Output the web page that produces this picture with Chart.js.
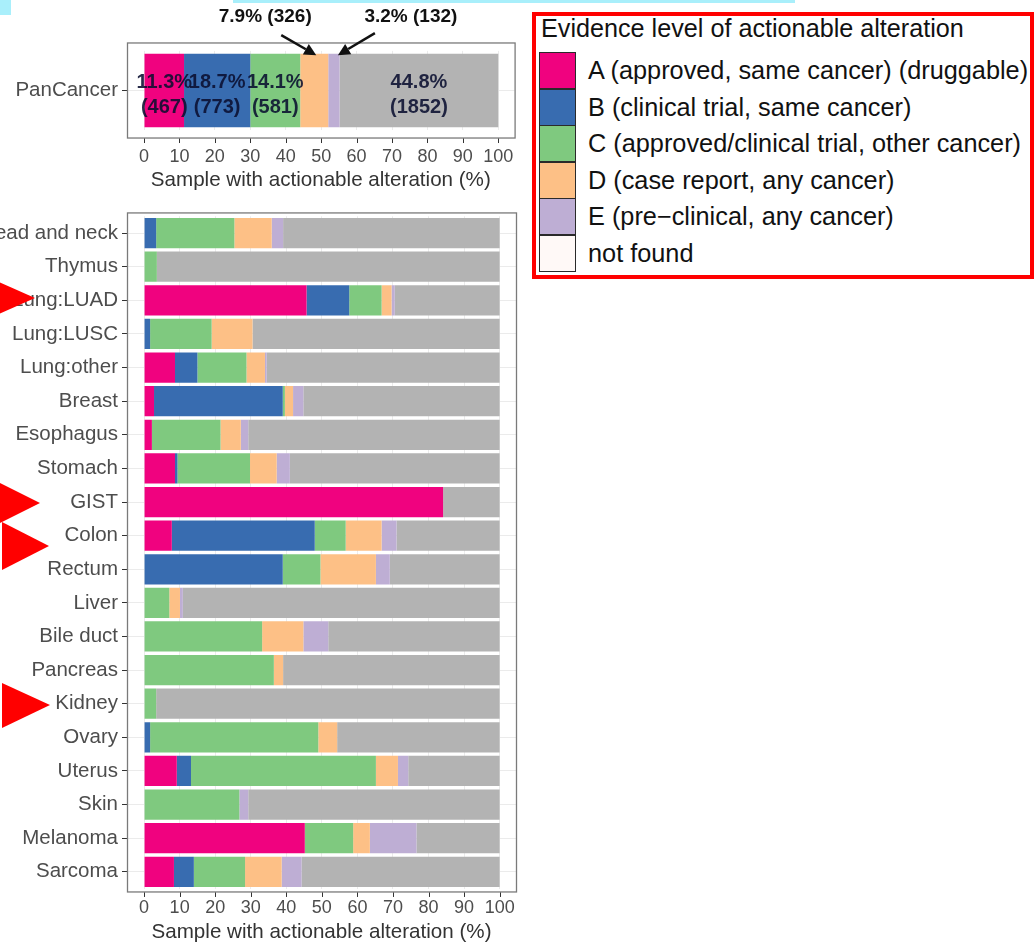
<!DOCTYPE html>
<html><head><meta charset="utf-8">
<script src="https://cdn.jsdelivr.net/npm/chart.js@4.4.0/dist/chart.umd.min.js"></script>
<style>
html,body{margin:0;padding:0;width:1034px;height:942px;overflow:hidden;background:#fff;font-family:"Liberation Sans",Arial,sans-serif;}
#topChart{position:absolute;left:0;top:0;}
#bottomChart{position:absolute;left:0;top:200px;}
#legend{position:absolute;left:532px;top:12px;width:494px;height:259px;border:4px solid #ff0000;}
#legend .ttl{position:absolute;left:5px;top:0;font-size:25.2px;line-height:24px;color:#111;white-space:nowrap;}
#legend .key{position:absolute;left:3px;width:37px;height:37px;box-sizing:border-box;border:1px solid #2a2a2a;}
#legend .lab{position:absolute;left:52px;font-size:25.3px;line-height:36px;color:#111;white-space:nowrap;}
#ov{position:absolute;left:0;top:0;pointer-events:none;}
</style>
</head><body>
<canvas id="topChart" width="530" height="200"></canvas>
<canvas id="bottomChart" width="530" height="760"></canvas>
<div id="legend"></div>
<svg id="ov" width="1034" height="942">
<rect x="0" y="0" width="11" height="15" fill="#a9effb"/>
<rect x="233" y="0" width="562" height="3" fill="#a9effb"/>
<polygon points="-15,276 -15,320 35,298" fill="#ff0000"/>
<polygon points="-8,479 -8,527 40,503" fill="#ff0000"/>
<polygon points="2,522 2,570 49,546" fill="#ff0000"/>
<polygon points="2,683 2,728 50,705" fill="#ff0000"/>
</svg>
<script>
// ---- data ----
const seriesNames = ['A (approved, same cancer) (druggable)', 'B (clinical trial, same cancer)', 'C (approved/clinical trial, other cancer)', 'D (case report, any cancer)', 'E (pre\u2212clinical, any cancer)', 'not found'];
const seriesColors = ['#F0027F', '#386CB0', '#7FC97F', '#FDC086', '#BEAED4', '#FFF9F7'];
const restColor = '#B3B3B3';
const legendTitle = 'Evidence level of actionable alteration';
const xTitle = 'Sample with actionable alteration (%)';
const xTicks = [0, 10, 20, 30, 40, 50, 60, 70, 80, 90, 100];

const panCategories = ['PanCancer'];
const panA = [11.3];
const panB = [18.7];
const panC = [14.1];
const panD = [7.9];
const panE = [3.2];
const panRest = [44.8];
const panCounts = [467, 773, 581, 326, 132, 1852];

const categories = ['Head and neck', 'Thymus', 'Lung:LUAD', 'Lung:LUSC', 'Lung:other', 'Breast', 'Esophagus', 'Stomach', 'GIST', 'Colon', 'Rectum', 'Liver', 'Bile duct', 'Pancreas', 'Kidney', 'Ovary', 'Uterus', 'Skin', 'Melanoma', 'Sarcoma'];
const levelA = [0, 0, 45.7, 0, 8.7, 2.8, 2.2, 8.7, 84.1, 7.8, 0, 0, 0, 0, 0, 0, 9.2, 0, 45.2, 8.4];
const levelB = [3.4, 0, 12.0, 1.7, 6.3, 36.2, 0, 0.7, 0, 40.2, 39.0, 0, 0, 0, 0, 1.7, 4.0, 0, 0, 5.6];
const levelC = [22.0, 3.6, 9.1, 17.3, 13.8, 0.6, 19.3, 20.4, 0, 8.7, 10.6, 7.1, 33.2, 36.5, 3.4, 47.3, 52.0, 26.8, 13.6, 14.4];
const levelD = [10.5, 0, 2.8, 11.5, 5.2, 2.3, 5.7, 7.5, 0, 10.1, 15.6, 3.0, 11.6, 2.6, 0, 5.3, 6.2, 0, 4.7, 10.3];
const levelE = [3.2, 0, 0.9, 0, 0.5, 2.9, 2.1, 3.7, 0, 4.2, 3.9, 0.8, 7.0, 0, 0, 0, 2.9, 2.5, 13.1, 5.6];
const levelRest = [60.9, 96.4, 29.5, 69.5, 65.5, 55.2, 70.7, 59.0, 15.9, 29.0, 30.9, 89.1, 48.2, 60.9, 96.6, 45.7, 25.7, 70.7, 23.4, 55.7];

// ---- legend (HTML) ----
(function () {
  const lg = document.getElementById('legend');
  const t = document.createElement('div'); t.className = 'ttl'; t.textContent = legendTitle; lg.appendChild(t);
  seriesNames.forEach((n, i) => {
    const top = 36 + i * 36.5;
    const k = document.createElement('div'); k.className = 'key';
    k.style.top = top + 'px'; k.style.background = seriesColors[i]; lg.appendChild(k);
    const l = document.createElement('div'); l.className = 'lab';
    l.style.top = top + 'px'; l.textContent = n; lg.appendChild(l);
  });
})();

const FAM = '"Liberation Sans", Arial, sans-serif';

const panelPlugin = {
  id: 'panel',
  afterDraw(chart) {
    const a = chart.chartArea, ctx = chart.ctx;
    const n = chart.data.labels.length;
    const inset = 0.1 * (a.bottom - a.top) / n;
    const top = a.top - inset, bottom = a.bottom + inset;
    ctx.save();
    ctx.strokeStyle = '#7a7a7a'; ctx.lineWidth = 1.3;
    ctx.strokeRect(a.left + 0.5, top, a.right - a.left, bottom - top);
    ctx.strokeStyle = '#333'; ctx.lineWidth = 1;
    const sx = chart.scales.x;
    sx.ticks.forEach(t => {
      const px = Math.round(sx.getPixelForValue(t.value)) + 0.5;
      ctx.beginPath(); ctx.moveTo(px, bottom + 0.5); ctx.lineTo(px, bottom + 5); ctx.stroke();
    });
    ctx.restore();
  }
};

function arrow(ctx, x0, y0, x1, y1) {
  const ang = Math.atan2(y1 - y0, x1 - x0), L = 12, W = 6;
  const bx = x1 - L * Math.cos(ang), by = y1 - L * Math.sin(ang);
  ctx.beginPath(); ctx.moveTo(x0, y0); ctx.lineTo(bx, by); ctx.stroke();
  ctx.beginPath(); ctx.moveTo(x1, y1);
  ctx.lineTo(bx + W * Math.sin(ang), by - W * Math.cos(ang));
  ctx.lineTo(bx - W * Math.sin(ang), by + W * Math.cos(ang));
  ctx.closePath(); ctx.fill();
}

const panLabelPlugin = {
  id: 'panLabels',
  afterDraw(chart) {
    const ctx = chart.ctx;
    const vals = chart.data.datasets.map(d => d.data[0]);
    const el = i => chart.getDatasetMeta(i).data[0];
    ctx.save();
    ctx.textAlign = 'center'; ctx.textBaseline = 'middle';
    ctx.font = 'bold 20px ' + FAM;
    ctx.fillStyle = 'rgba(10,15,48,0.88)';
    [0, 1, 2, 5].forEach(i => {
      const e = el(i); const cx = (e.x + e.base) / 2;
      ctx.fillText(vals[i].toFixed(1) + '%', cx, e.y - 8);
      ctx.fillText('(' + panCounts[i] + ')', cx, e.y + 16.5);
    });
    // callouts for D and E
    ctx.fillStyle = '#111'; ctx.strokeStyle = '#111'; ctx.lineWidth = 2.5;
    ctx.font = 'bold 19px ' + FAM;
    const d = el(3), e5 = el(4);
    const barTop = d.y - d.height / 2;
    const tipD = [(d.x + d.base) / 2 + 2, barTop + 1.5];
    arrow(ctx, tipD[0] - 35, tipD[1] - 20, tipD[0], tipD[1]);
    ctx.fillText(vals[3].toFixed(1) + '% (' + panCounts[3] + ')', tipD[0] - 51, tipD[1] - 38);
    const tipE = [(e5.x + e5.base) / 2 + 4, barTop + 1.5];
    arrow(ctx, tipE[0] + 37, tipE[1] - 22, tipE[0], tipE[1]);
    ctx.fillText(vals[4].toFixed(1) + '% (' + panCounts[4] + ')', tipE[0] + 73, tipE[1] - 38);
    ctx.restore();
  }
};

function makeDatasets(a, b, c, d, e, rest) {
  return [a, b, c, d, e].map((arr, i) => ({ label: seriesNames[i], data: arr, backgroundColor: seriesColors[i] }))
    .concat([{ label: 'other', data: rest, backgroundColor: restColor }]);
}

function buildChart(id, labels, datasets, cfg, extraPlugins) {
  return new Chart(document.getElementById(id), {
    type: 'bar',
    data: { labels: labels, datasets: datasets },
    options: {
      indexAxis: 'y', responsive: false, animation: false, maintainAspectRatio: false,
      layout: { padding: { top: cfg.padTop, right: 14, left: 0, bottom: 0 } },
      plugins: { legend: { display: false }, tooltip: { enabled: false } },
      datasets: { bar: { barPercentage: cfg.barPct, categoryPercentage: 1, borderWidth: 0 } },
      scales: {
        x: {
          stacked: true, min: -4.8, max: 104.6,
          afterBuildTicks: s => { s.ticks = xTicks.map(v => ({ value: v })); },
          afterFit: s => { s.height = cfg.xAxisHeight; },
          grid: { color: '#ebebeb', drawTicks: false, lineWidth: 1 },
          border: { display: false },
          ticks: { color: '#4d4d4d', font: { family: FAM, size: 18 }, padding: cfg.xTickPad, maxRotation: 0, autoSkip: false },
          title: { display: true, text: xTitle, color: '#333', font: { family: FAM, size: 20.6, lineHeight: 1.2 }, padding: { top: 0, bottom: cfg.titlePadBottom } }
        },
        y: {
          stacked: true,
          afterFit: s => { s.width = 127; },
          grid: { color: '#ebebeb', offset: false, tickLength: 5, tickColor: '#333', drawTicks: true },
          border: { display: false },
          ticks: { color: '#4d4d4d', font: { family: FAM, size: 20.5 }, padding: 4, autoSkip: false }
        }
      }
    },
    plugins: [panelPlugin].concat(extraPlugins || [])
  });
}

buildChart('topChart', panCategories, makeDatasets(panA, panB, panC, panD, panE, panRest),
  { padTop: 50.9, barPct: 0.93, xAxisHeight: 69.9, xTickPad: 16.1, titlePadBottom: 7.6 }, [panLabelPlugin]);

buildChart('bottomChart', categories, makeDatasets(levelA, levelB, levelC, levelD, levelE, levelRest),
  { padTop: 13.4, barPct: 0.9, xAxisHeight: 71.4, xTickPad: 8.6, titlePadBottom: 15.6 });
</script>
</body></html>
